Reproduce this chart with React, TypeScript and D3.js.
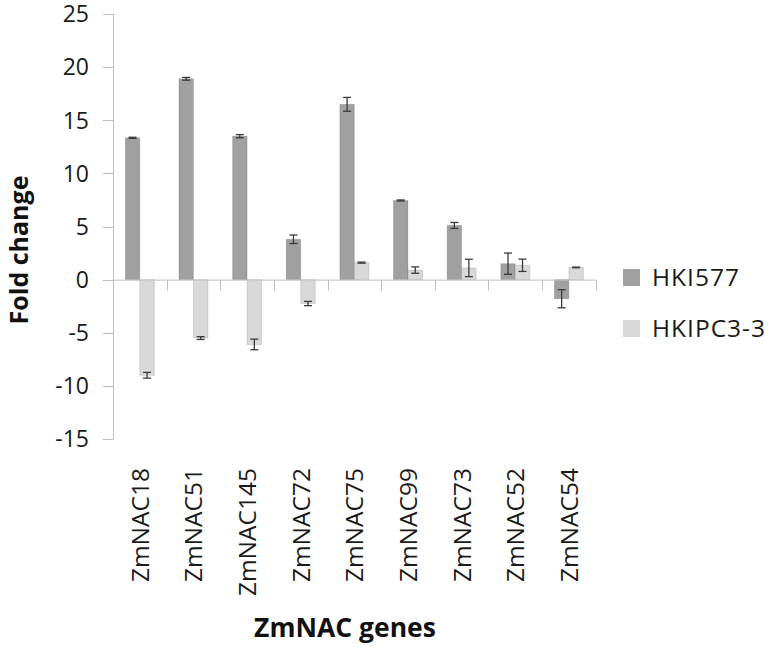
import { useEffect, useRef } from 'react';
import * as d3 from 'd3';

const genes = ['ZmNAC18', 'ZmNAC51', 'ZmNAC145', 'ZmNAC72', 'ZmNAC75', 'ZmNAC99', 'ZmNAC73', 'ZmNAC52', 'ZmNAC54'];
const seriesNames = ['HKI577', 'HKIPC3-3'];
const hki577 = [13.35, 18.9, 13.5, 3.8, 16.5, 7.45, 5.1, 1.5, -1.8];
const hki577Err = [0.05, 0.13, 0.15, 0.4, 0.65, 0.05, 0.28, 1.0, 0.85];
const hkipc = [-9.0, -5.5, -6.1, -2.25, 1.6, 0.9, 1.1, 1.35, 1.15];
const hkipcErr = [0.27, 0.13, 0.5, 0.2, 0.05, 0.3, 0.82, 0.58, 0.03];
const yTicks = [25, 20, 15, 10, 5, 0, -5, -10, -15];
const colors = ['#a0a0a0', '#d9d9d9'];

const FONT = '"Open Sans", "Liberation Sans", sans-serif';

const App = () => {
  const svgRef = useRef<SVGSVGElement>(null);

  useEffect(() => {
    const width = 774;
    const height = 649;

    const svg = d3.select(svgRef.current)
      .attr('width', width)
      .attr('height', height);
    svg.selectAll('*').remove();

    const x = d3.scaleBand()
      .domain(genes)
      .range([113, 595.7]);

    const y = d3.scaleLinear()
      .domain([-15, 25])
      .range([439, 14]);

    const inner = d3.scaleBand()
      .domain(seriesNames)
      .range([0, x.bandwidth()])
      .paddingOuter(0.85)
      .paddingInner(0);

    // y axis
    svg.append('line')
      .attr('x1', 113.5).attr('x2', 113.5)
      .attr('y1', y(25)).attr('y2', y(-15))
      .attr('stroke', '#bfbfbf');

    svg.append('g')
      .selectAll('line')
      .data(yTicks)
      .join('line')
      .attr('x1', 103).attr('x2', 113.5)
      .attr('y1', d => Math.round(y(d)) + 0.5)
      .attr('y2', d => Math.round(y(d)) + 0.5)
      .attr('stroke', '#bfbfbf');

    svg.append('g')
      .selectAll('text')
      .data(yTicks)
      .join('text')
      .attr('x', 89)
      .attr('y', d => y(d))
      .attr('dy', '0.36em')
      .attr('text-anchor', 'end')
      .attr('font-family', FONT)
      .attr('font-size', 23)
      .attr('fill', '#1a1a1a')
      .text(d => d);

    const data = genes.map((g, i) => ({
      gene: g,
      vals: [
        { s: seriesNames[0], v: hki577[i], e: hki577Err[i] },
        { s: seriesNames[1], v: hkipc[i], e: hkipcErr[i] },
      ],
    }));

    const groups = svg.append('g')
      .selectAll('g')
      .data(data)
      .join('g')
      .attr('transform', d => `translate(${x(d.gene)},0)`);

    groups.selectAll('rect')
      .data(d => d.vals)
      .join('rect')
      .attr('x', d => inner(d.s)!)
      .attr('width', inner.bandwidth())
      .attr('y', d => y(Math.max(0, d.v)))
      .attr('height', d => Math.abs(y(d.v) - y(0)))
      .attr('fill', (d, i) => colors[i])
      .attr('stroke', 'rgba(0,0,0,0.12)')
      .attr('stroke-width', 1);

    // zero axis line + category ticks
    svg.append('line')
      .attr('x1', 113).attr('x2', 595.7)
      .attr('y1', y(0) + 0.5).attr('y2', y(0) + 0.5)
      .attr('stroke', '#bfbfbf');

    svg.append('g')
      .selectAll('line')
      .data(genes)
      .join('line')
      .attr('x1', d => Math.round(x(d)! + x.bandwidth()) + 0.5)
      .attr('x2', d => Math.round(x(d)! + x.bandwidth()) + 0.5)
      .attr('y1', y(0)).attr('y2', y(0) + 11)
      .attr('stroke', '#bfbfbf');

    // error bars
    const errs = groups.selectAll('g.err')
      .data(d => d.vals)
      .join('g')
      .attr('class', 'err')
      .attr('transform', d => `translate(${inner(d.s)! + inner.bandwidth() / 2},0)`)
      .attr('stroke', '#3a3a3a')
      .attr('stroke-width', 1.3);

    errs.append('line')
      .attr('y1', d => y(d.v + d.e)).attr('y2', d => y(d.v - d.e));
    errs.append('line')
      .attr('x1', -4).attr('x2', 4)
      .attr('y1', d => y(d.v + d.e)).attr('y2', d => y(d.v + d.e));
    errs.append('line')
      .attr('x1', -4).attr('x2', 4)
      .attr('y1', d => y(d.v - d.e)).attr('y2', d => y(d.v - d.e));

    // category labels
    svg.append('g')
      .selectAll('text')
      .data(genes)
      .join('text')
      .attr('transform', d => `translate(${x(d)! + x.bandwidth() / 2 + 9},468) rotate(-90)`)
      .attr('text-anchor', 'end')
      .attr('font-family', FONT)
      .attr('font-size', 24.5)
      .attr('fill', '#1a1a1a')
      .text(d => d);

    // axis titles
    svg.append('text')
      .attr('transform', `translate(28,250) rotate(-90)`)
      .attr('text-anchor', 'middle')
      .attr('font-family', FONT)
      .attr('font-weight', 'bold')
      .attr('font-size', 25)
      .attr('fill', '#111')
      .text('Fold change');

    svg.append('text')
      .attr('x', 345)
      .attr('y', 637)
      .attr('text-anchor', 'middle')
      .attr('font-family', FONT)
      .attr('font-weight', 'bold')
      .attr('font-size', 26.5)
      .attr('fill', '#111')
      .text('ZmNAC genes');

    // legend
    const legend = svg.append('g')
      .selectAll('g')
      .data(seriesNames)
      .join('g')
      .attr('transform', (d, i) => `translate(623,${269 + i * 51})`);

    legend.append('rect')
      .attr('width', 17)
      .attr('height', 17)
      .attr('fill', (d, i) => colors[i]);

    legend.append('text')
      .attr('x', 29)
      .attr('y', 17)
      .attr('font-family', FONT)
      .attr('font-size', 24.5)
      .attr('letter-spacing', 1)
      .attr('fill', '#1a1a1a')
      .text(d => d);
  }, []);

  return <svg ref={svgRef} style={{ position: 'absolute', left: 0, top: 0 }}></svg>;
};

export default App;
